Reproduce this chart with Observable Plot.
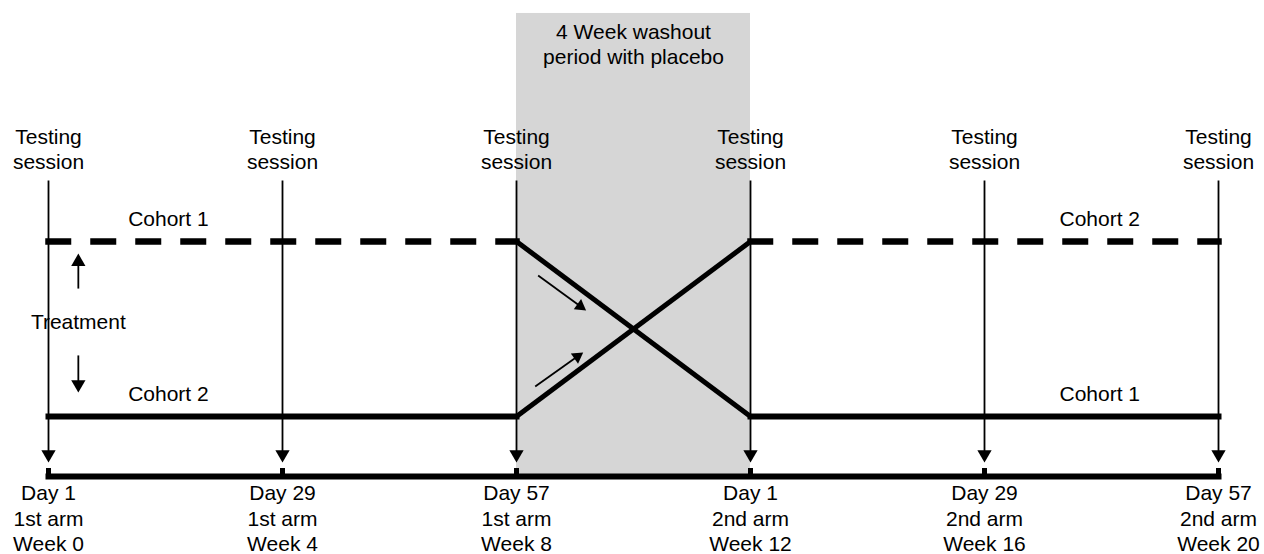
<!DOCTYPE html>
<html>
<head>
<meta charset="utf-8">
<script src="https://cdn.jsdelivr.net/npm/d3@7"></script>
<script src="https://cdn.jsdelivr.net/npm/@observablehq/plot@0.6"></script>
<style>
  html, body { margin: 0; padding: 0; background: #ffffff; }
  #chart svg { display: block; }
</style>
</head>
<body>
<div id="chart"></div>
<script>
// ---------- data ----------
const sessionWeeks = [0, 4, 8, 12, 16, 20];
const sessionLabel = "Testing\nsession";
const dayLabels = ["Day 1", "Day 29", "Day 57", "Day 1", "Day 29", "Day 57"];
const armLabels = ["1st arm", "1st arm", "1st arm", "2nd arm", "2nd arm", "2nd arm"];
const weekLabels = ["Week 0", "Week 4", "Week 8", "Week 12", "Week 16", "Week 20"];
const washoutWeeks = [8, 12];
const washoutLabel = "4 Week washout\nperiod with placebo";
// treatment level: 1 = upper (dashed) line, 0 = lower (solid) line
const cohort1Path = [[0, 1], [8, 1], [12, 0], [20, 0]];
const cohort2Path = [[0, 0], [8, 0], [12, 1], [20, 1]];
const cohortLabelText = ["Cohort 1", "Cohort 2", "Cohort 2", "Cohort 1"];
const cohortLabelWeek = [2.05, 17.97, 2.05, 17.97];
const cohortLabelLevel = [1, 1, 0, 0];
const treatmentLabel = "Treatment";
// small direction arrows (week, level)
const crossoverArrows = [
  {x1: 8.37, y1: 0.806, x2: 9.19, y2: 0.606},
  {x1: 8.32, y1: 0.171, x2: 9.14, y2: 0.366}
];
const treatmentArrows = [
  {x1: 0.51, y1: 0.731, x2: 0.51, y2: 0.931},
  {x1: 0.51, y1: 0.349, x2: 0.51, y2: 0.137}
];

// ---------- layout ----------
const X_RANGE = [48, 1218];
const Y_RANGE = [416, 241];
const L = {
  axis: -0.343, tick: -0.297, arrowTip: -0.263, sessionTop: 1.349,
  sessionLabel: 1.532, washoutTop: 2.303, washoutLabel: 2.13, dateLabel: -0.577,
  treatmentLabel: 0.54
};
const font = "'Liberation Sans', Arial, Helvetica, sans-serif";
const fs = 21;

const xs = d3.scaleLinear([0, 20], X_RANGE);
const ys = d3.scaleLinear([0, 1], Y_RANGE);
function arrow(a, r) {
  const px1 = xs(a.x1), py1 = ys(a.y1), px2 = xs(a.x2), py2 = ys(a.y2);
  const dx = px2 - px1, dy = py2 - py1, len = Math.hypot(dx, dy);
  const ux = dx / len, uy = dy / len;
  const k = Math.sqrt(Math.PI / (3 * Math.sqrt(3))) * r;
  const cx = px2 - ux * 2 * k, cy = py2 - uy * 2 * k;
  const bx = px2 - ux * 2.6 * k, by = py2 - uy * 2.6 * k;
  const rot = Math.atan2(dy, dx) * 180 / Math.PI + 90;
  return {
    shaft: {x1: a.x1, y1: a.y1, x2: xs.invert(bx), y2: ys.invert(by)},
    head: {x: xs.invert(cx), y: ys.invert(cy), rotate: rot}
  };
}

// segments
const segs = [];
for (const path of [cohort1Path, cohort2Path]) {
  for (let i = 0; i < path.length - 1; i++) {
    const [x1, y1] = path[i], [x2, y2] = path[i + 1];
    segs.push({x1, y1, x2, y2, kind: y1 !== y2 ? "cross" : (y1 === 1 ? "dashed" : "solid")});
  }
}
const sessionArrows = sessionWeeks.map(w => arrow({x1: w, y1: L.sessionTop, x2: w, y2: L.arrowTip}, 5.3));
const crossA = crossoverArrows.map(a => arrow(a, 4.6));
const treatA = treatmentArrows.map(a => arrow(a, 5.3));

const sessions = sessionWeeks.map((w, i) => ({
  w, label: `${dayLabels[i]}\n${armLabels[i]}\n${weekLabels[i]}`
}));
const cohortLabels = cohortLabelText.map((t, i) => ({t, x: cohortLabelWeek[i], y: cohortLabelLevel[i]}));

const txt = {fill: "black", fontSize: fs, fontFamily: font};

const chart = Plot.plot({
  width: 1264,
  height: 554,
  margin: 0,
  x: {domain: [0, 20], range: X_RANGE, axis: null},
  y: {domain: [0, 1], range: Y_RANGE, axis: null},
  style: {background: "#ffffff", fontFamily: font},
  marks: [
    Plot.rect([washoutWeeks], {x1: d => d[0], x2: d => d[1], y1: L.axis, y2: L.washoutTop, fill: "#d6d6d6"}),
    Plot.text([washoutLabel], {x: (washoutWeeks[0] + washoutWeeks[1]) / 2, y: L.washoutLabel, text: d => d, ...txt, lineHeight: 1.19}),
    // testing session lines
    Plot.link(sessionArrows.map(d => d.shaft), {x1: "x1", y1: "y1", x2: "x2", y2: "y2", stroke: "black", strokeWidth: 1.8}),
    Plot.dot(sessionArrows.map(d => d.head), {x: "x", y: "y", rotate: "rotate", symbol: "triangle", r: 5.3, fill: "black", stroke: "none"}),
    // cohort lines
    Plot.link(segs.filter(d => d.kind === "dashed"), {x1: "x1", y1: "y1", x2: "x2", y2: "y2", stroke: "black", strokeWidth: 6.5, strokeDasharray: "19.5,25.5", strokeLinecap: "square"}),
    Plot.link(segs.filter(d => d.kind === "solid"), {x1: "x1", y1: "y1", x2: "x2", y2: "y2", stroke: "black", strokeWidth: 6, strokeLinecap: "square"}),
    Plot.link(segs.filter(d => d.kind === "cross"), {x1: "x1", y1: "y1", x2: "x2", y2: "y2", stroke: "black", strokeWidth: 5}),
    // small arrows
    Plot.link(crossA.map(d => d.shaft), {x1: "x1", y1: "y1", x2: "x2", y2: "y2", stroke: "black", strokeWidth: 1.8}),
    Plot.dot(crossA.map(d => d.head), {x: "x", y: "y", rotate: "rotate", symbol: "triangle", r: 4.6, fill: "black", stroke: "none"}),
    Plot.link(treatA.map(d => d.shaft), {x1: "x1", y1: "y1", x2: "x2", y2: "y2", stroke: "black", strokeWidth: 1.8}),
    Plot.dot(treatA.map(d => d.head), {x: "x", y: "y", rotate: "rotate", symbol: "triangle", r: 5.3, fill: "black", stroke: "none"}),
    // time axis
    Plot.link([{x1: 0, x2: 20}], {x1: "x1", x2: "x2", y1: L.axis, y2: L.axis, stroke: "black", strokeWidth: 6, strokeLinecap: "square"}),
    Plot.ruleX(sessionWeeks, {x: d => d, y1: L.axis, y2: L.tick, stroke: "black", strokeWidth: 5}),
    // labels
    Plot.text(sessionWeeks, {x: d => d, y: L.sessionLabel, text: () => sessionLabel, ...txt, lineHeight: 1.19}),
    Plot.text(sessions, {x: "w", y: L.dateLabel, text: "label", ...txt, lineHeight: 1.2}),
    Plot.text(cohortLabels, {x: "x", y: "y", text: "t", dy: -22, ...txt}),
    Plot.text([treatmentLabel], {x: treatmentArrows[0].x1, y: L.treatmentLabel, text: d => d, ...txt})
  ]
});
document.getElementById("chart").appendChild(chart);
</script>
</body>
</html>
